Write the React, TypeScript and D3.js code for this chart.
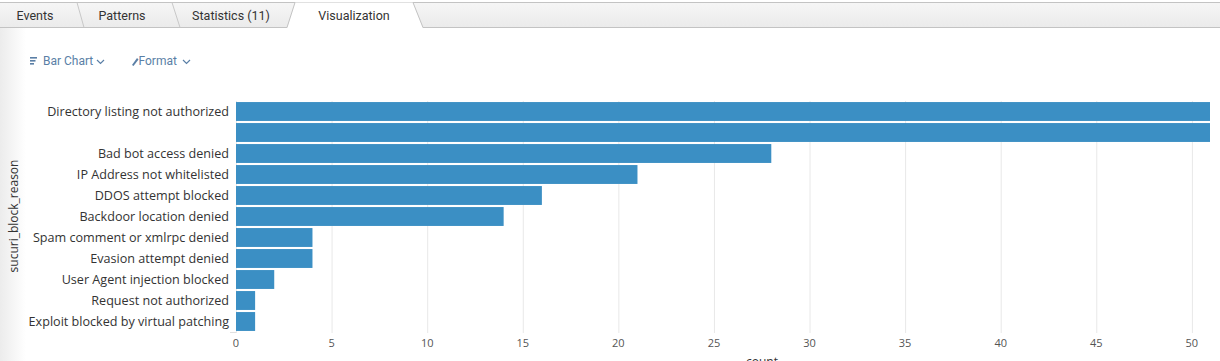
import React from "react";
import * as d3 from "d3";

const categories = [
  "Directory listing not authorized",
  "",
  "Bad bot access denied",
  "IP Address not whitelisted",
  "DDOS attempt blocked",
  "Backdoor location denied",
  "Spam comment or xmlrpc denied",
  "Evasion attempt denied",
  "User Agent injection blocked",
  "Request not authorized",
  "Exploit blocked by virtual patching",
];
const counts = [51, 51, 28, 21, 16, 14, 4, 4, 2, 1, 1];
const xTicks = [0, 5, 10, 15, 20, 25, 30, 35, 40, 45, 50];
const tabs = ["Events", "Patterns", "Statistics (11)", "Visualization"];

const W = 1220;
const H = 361;
const FONT = "'Open Sans', 'DejaVu Sans', sans-serif";
const UIFONT = "Roboto, 'Open Sans', sans-serif";

export default function App() {
  const x = d3.scaleLinear().domain([0, 51]).range([236, 1211]);
  const keys = categories.map((c, i) => i + "|" + c);
  const y = d3
    .scaleBand<string>()
    .domain(keys)
    .range([101, 332])
    .paddingInner(0.1)
    .paddingOuter(0.05);
  const barColor = "#3b8fc4";
  const linkColor = "#5a7fa6";

  const tabCenters = [35, 122, 231, 354];

  return (
    <div style={{ position: "absolute", left: 0, top: 0, width: W, height: H, overflow: "hidden", background: "#fff" }}>
      <svg width={W} height={H} style={{ display: "block", fontFamily: FONT }}>
        <defs>
          <linearGradient id="tabbg" x1="0" y1="0" x2="0" y2="1">
            <stop offset="0" stopColor="#f6f6f6" />
            <stop offset="1" stopColor="#ebebeb" />
          </linearGradient>
          <linearGradient id="leftfade" x1="0" y1="0" x2="1" y2="0">
            <stop offset="0" stopColor="#ececec" />
            <stop offset="1" stopColor="#ffffff" />
          </linearGradient>
        </defs>
        {/* left fade */}
        <rect x={0} y={28} width={26} height={H - 28} fill="url(#leftfade)" />
        {/* tab bar */}
        <rect x={0} y={2} width={W} height={25} fill="url(#tabbg)" />
        <line x1={0} x2={W} y1={2.5} y2={2.5} stroke="#c3c3c3" />
        <line x1={0} x2={W} y1={27.5} y2={27.5} stroke="#c3c3c3" />
        {/* active tab */}
        <path d="M287,28 L295,2.5 L413,2.5 L423,28 Z" fill="#ffffff" />
        <line x1={287} y1={27.5} x2={295} y2={2.5} stroke="#c3c3c3" />
        <line x1={413} y1={2.5} x2={423} y2={27.5} stroke="#c3c3c3" />
        {/* inactive separators */}
        <line x1={77} y1={2.5} x2={84} y2={27.5} stroke="#c8c8c8" />
        <line x1={172} y1={2.5} x2={180} y2={27.5} stroke="#c8c8c8" />
        {tabs.map((t, i) => (
          <text key={t} x={tabCenters[i]} y={16} dy={0.5} textAnchor="middle" dominantBaseline="middle" fontSize={12.5} fill="#333" fontFamily={UIFONT}>
            {t}
          </text>
        ))}
        {/* toolbar */}
        <g fill={linkColor} fontFamily={UIFONT}>
          <rect x={30} y={57} width={7} height={1.6} />
          <rect x={30} y={60} width={5.5} height={1.6} />
          <rect x={30} y={63} width={4} height={1.6} />
          <text x={43} y={62} dominantBaseline="middle" fontSize={12}>Bar Chart</text>
          <path d="M132,65 L137,58 L138.5,59.5 L133.5,66 Z" />
          <text x={138.5} y={62} dominantBaseline="middle" fontSize={12}>Format</text>
        </g>
        <path d="M97,60 L100.5,63.5 L104,60" fill="none" stroke={linkColor} strokeWidth={1.2} />
        <path d="M183,60 L186.5,63.5 L190,60" fill="none" stroke={linkColor} strokeWidth={1.2} />
        {/* gridlines */}
        {xTicks.map((t) => (
          <line key={"g" + t} x1={x(t) + 0.5} x2={x(t) + 0.5} y1={101} y2={333} stroke="#e8e8e8" />
        ))}
        {/* bars */}
        {keys.map((k, i) => (
          <rect key={k} x={x(0)} y={y(k)} width={Math.min(x(counts[i]), 1210) - x(0)} height={y.bandwidth()} fill={barColor} />
        ))}
        {/* category labels */}
        {keys.map((k, i) => (
          <text key={"l" + k} x={229} y={(y(k) as number) + y.bandwidth() / 2} dy={1.5} textAnchor="end" dominantBaseline="middle" fontSize={12.6} fill="#333">
            {categories[i]}
          </text>
        ))}
        <line x1={230} x2={236} y1={332.5} y2={332.5} stroke="#e0e0e0" />
        {/* x tick labels */}
        {xTicks.map((t) => (
          <text key={"t" + t} x={x(t)} y={343} dy={1.5} textAnchor="middle" dominantBaseline="middle" fontSize={11} fill="#555">
            {t}
          </text>
        ))}
        <text x={762} y={366} textAnchor="middle" fontSize={12} fill="#333">count</text>
        <text transform="translate(15,216) rotate(-90)" textAnchor="middle" dominantBaseline="middle" fontSize={12} fill="#333">
          sucuri_block_reason
        </text>
      </svg>
    </div>
  );
}
